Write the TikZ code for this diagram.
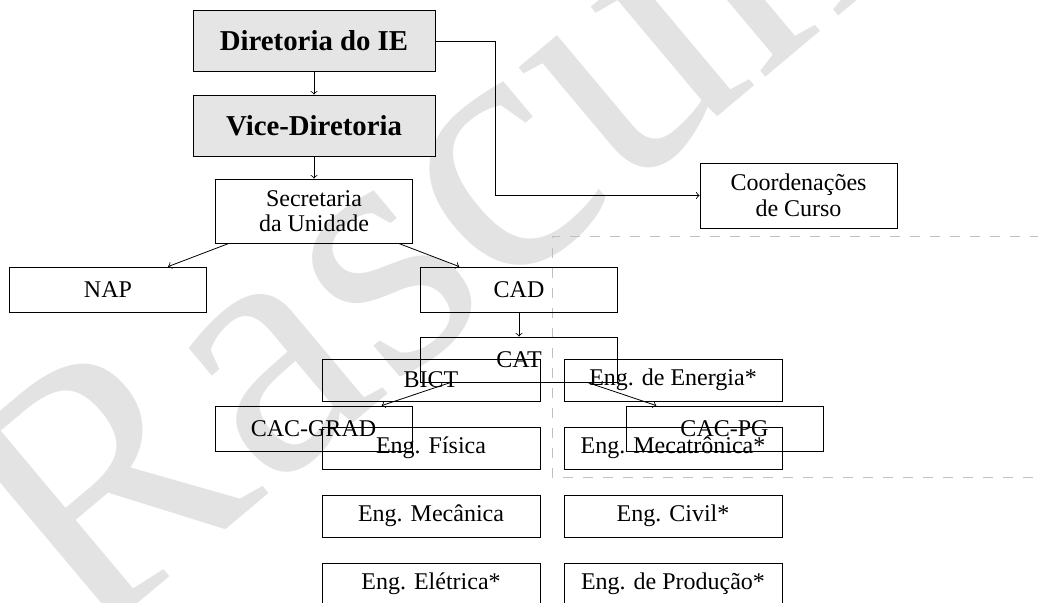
\documentclass[tikz,border=0pt]{standalone}
\usepackage{fontspec}
\setmainfont{Liberation Serif}
\begin{document}
\begin{tikzpicture}[x=0.5pt,y=-0.5pt,
  box/.style={draw, minimum width=98.5pt, minimum height=22.5pt, inner sep=0pt,
    font=\fontsize{12pt}{12.8pt}\selectfont, align=center},
  engbox/.style={box, minimum width=109pt, minimum height=21pt},
  topbox/.style={draw, fill=gray!20, minimum width=121pt, minimum height=30.5pt, inner sep=0pt,
    font=\fontsize{14.4pt}{17pt}\selectfont\bfseries},
  conn/.style={->},
  wm/.style={rotate=40, anchor=base west, text=gray!22, inner sep=0pt,
    font=\fontsize{180pt}{180pt}\selectfont},
  frame/.style={gray!50, dash pattern=on 5pt off 5pt}]
\useasboundingbox (0,0) rectangle (1038,603);
\clip (0,0) rectangle (1038,603);
% watermark
\node[wm] (wmark) at (85,648) {Rascunho};
% dashed frame
\draw[frame] (1100,236) -- (552,236) -- (552,477) -- (1100,477);
% nodes
\node[topbox] (dir) at (314,41) {Diretoria do IE};
\node[topbox] (vice) at (314,125.5) {Vice-Diretoria};
\node[box, minimum height=32pt] (sec) at (314,211) {Secretaria\\da Unidade};
\node[box, minimum height=32.5pt] (coord) at (798.5,195.5) {Coordenações\\de Curso};
\node[box] (nap) at (108,289.5) {NAP};
\node[box] (cad) at (519,289.5) {CAD};
\node[box] (cat) at (519,359.5) {CAT};
\node[engbox] (bict) at (431,380) {BICT};
\node[engbox] (energia) at (673,380) {Eng. de Energia*};
\node[box] (cacgrad) at (313.5,428.5) {CAC-GRAD};
\node[box] (cacpg) at (724.5,428.5) {CAC-PG};
\node[engbox] (fisica) at (431,448) {Eng. Física};
\node[engbox] (mecatronica) at (673,448) {Eng. Mecatrônica*};
\node[engbox] (mecanica) at (431,516) {Eng. Mecânica};
\node[engbox] (civil) at (673,516) {Eng. Civil*};
\node[engbox] (eletrica) at (431,584) {Eng. Elétrica*};
\node[engbox] (producao) at (673,584) {Eng. de Produção*};
% connectors
\coordinate (bend) at (495,195.5);
\draw[conn] (dir) -- (vice);
\draw[conn] (vice) -- (sec);
\draw[conn] (dir.east) -| (bend) -- (coord.west);
\draw[conn] (sec) -- (nap);
\draw[conn] (sec) -- (cad);
\draw[conn] (cad) -- (cat);
\draw[conn] (cat) -- (cacgrad);
\draw[conn] (cat) -- (cacpg);
\end{tikzpicture}
\end{document}
